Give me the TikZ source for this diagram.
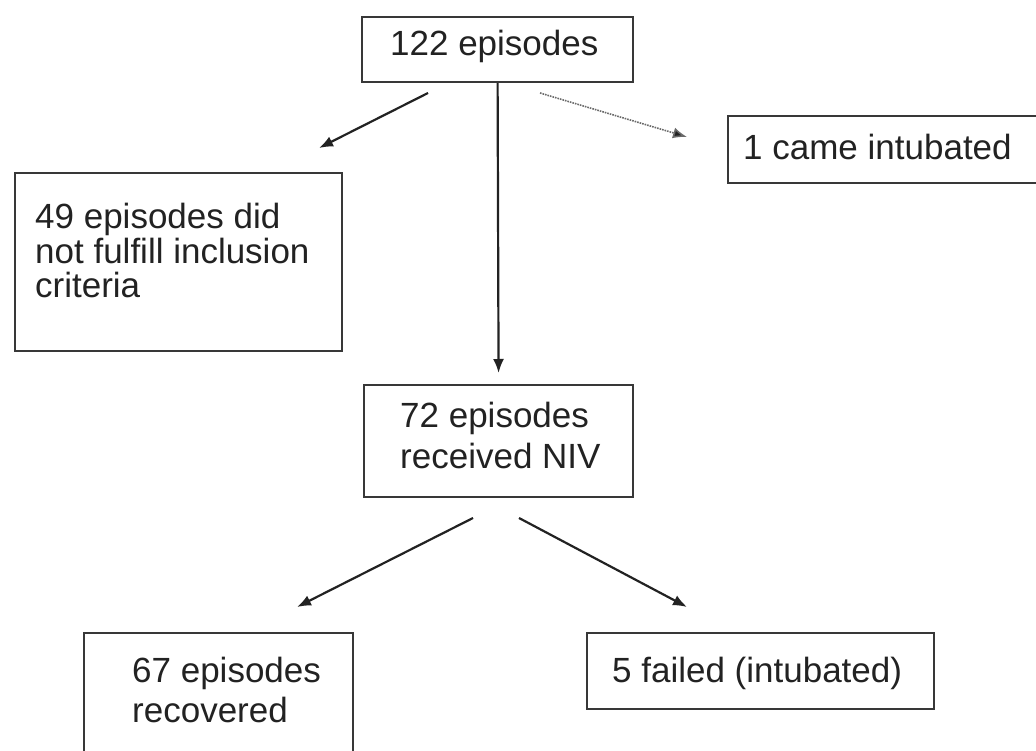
\documentclass[tikz,border=0pt]{standalone}
\usepackage{fontspec}
\setmainfont{Liberation Sans}
\usetikzlibrary{arrows.meta,calc}
\definecolor{ink}{HTML}{222222}
\definecolor{dotink}{HTML}{6A6A6A}
\tikzset{
  boxnode/.style={draw=ink!90, line width=2.2pt, inner sep=0pt, anchor=north west, rectangle},
  txt/.style={inner sep=0pt, text=ink, font=\fontsize{35}{41}\selectfont},
  conn/.style={draw=ink, line width=2.2pt, -{Latex[length=14pt,width=11pt]}},
  dotconn/.style={draw=dotink, line width=1.6pt, densely dotted, -{Latex[length=14pt,width=11pt,fill=ink]}}
}
\begin{document}
\begin{tikzpicture}[x=1pt,y=-1pt]
\useasboundingbox (0,0) rectangle (1036,751);
\clip (0,0) rectangle (1036,751);
% boxes
\node[boxnode, minimum width=271pt, minimum height=65pt] (top) at (361,16) {};
\node[boxnode, minimum width=327pt, minimum height=178pt] (excl) at (14,172) {};
\node[boxnode, minimum width=330pt, minimum height=67pt] (intub) at (727,115) {};
\node[boxnode, minimum width=269pt, minimum height=112pt] (niv) at (363,384) {};
\node[boxnode, minimum width=269pt, minimum height=135pt] (recov) at (83,632) {};
\node[boxnode, minimum width=347pt, minimum height=76pt] (fail) at (586,632) {};
% texts
\node[txt, anchor=base west] (ttop) at (390,56) {122 episodes};
\node[txt, anchor=base west] (tintub) at (743,160) {1 came intubated};
\node[txt, anchor=north west, align=left, font=\fontsize{35}{34.5}\selectfont] (texcl) at (35,203) {49 episodes did\\not fulfill inclusion\\criteria};
\node[txt, anchor=north west, align=left, font=\fontsize{35}{41}\selectfont] (tniv) at (400,402) {72 episodes\\received NIV};
\node[txt, anchor=north west, align=left, font=\fontsize{35}{40}\selectfont] (trecov) at (132,657) {67 episodes\\recovered};
\node[txt, anchor=base west] (tfail) at (612,682) {5 failed (intubated)};
% connector end points
\coordinate (a1s) at (428,93);
\coordinate (a1e) at (319,148);
\coordinate (a2s) at (540,93);
\coordinate (a2e) at (687,137);
\coordinate (b1s) at (473,518);
\coordinate (b1e) at (297,607);
\coordinate (b2s) at (519,518);
\coordinate (b2e) at (687,607);
% connectors
\draw[conn, shorten >=11pt] (top.south) -- (niv.north);
\draw[conn] (a1s) -- (a1e);
\draw[dotconn] (a2s) -- (a2e);
\draw[conn] (b1s) -- (b1e);
\draw[conn] (b2s) -- (b2e);
\end{tikzpicture}
\end{document}
